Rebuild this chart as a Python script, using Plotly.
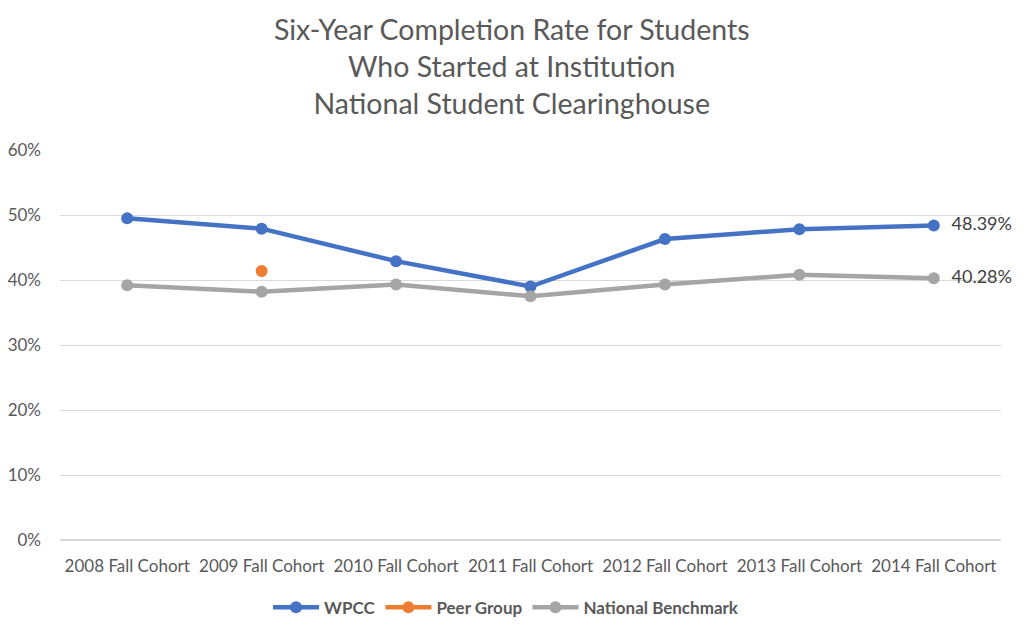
import plotly.graph_objects as go

categories = ["2008 Fall Cohort", "2009 Fall Cohort", "2010 Fall Cohort", "2011 Fall Cohort",
              "2012 Fall Cohort", "2013 Fall Cohort", "2014 Fall Cohort"]
wpcc = [0.495, 0.479, 0.429, 0.390, 0.463, 0.478, 0.4839]
peer_group = [None, 0.414, None, None, None, None, None]
national = [0.392, 0.382, 0.393, 0.375, 0.393, 0.408, 0.4028]
y_ticks = [0, 0.1, 0.2, 0.3, 0.4, 0.5, 0.6]

FONT = "Lato, 'Open Sans', sans-serif"
GRAY = "#595959"

def last_label(vals):
    return [""] * (len(vals) - 1) + ["\u00a0\u00a0" + f"{vals[-1]*100:.2f}%"]

fig = go.Figure()
fig.add_trace(go.Scatter(x=categories, y=wpcc, name="WPCC", mode="lines+markers+text",
                         line=dict(color="#4472C4", width=4.5), marker=dict(size=12, color="#4472C4"),
                         text=last_label(wpcc), textposition="middle right", cliponaxis=False,
                         textfont=dict(size=18, color="#404040", family=FONT)))
fig.add_trace(go.Scatter(x=categories, y=peer_group, name="Peer Group", mode="lines+markers",
                         line=dict(color="#ED7D31", width=4.5), marker=dict(size=12, color="#ED7D31")))
fig.add_trace(go.Scatter(x=categories, y=national, name="National Benchmark", mode="lines+markers+text",
                         line=dict(color="#A5A5A5", width=4.5), marker=dict(size=12, color="#A5A5A5"),
                         text=last_label(national), textposition="middle right", cliponaxis=False,
                         textfont=dict(size=18, color="#404040", family=FONT)))

fig.update_layout(
    width=1028, height=628,
    paper_bgcolor="white", plot_bgcolor="white",
    margin=dict(l=52, r=35, t=142, b=96),
    font=dict(family=FONT, color=GRAY, size=17),
    title=dict(text="Six-Year Completion Rate for Students<br>Who Started at Institution<br>National Student Clearinghouse",
               x=0.49, xanchor="center", y=0.949, yanchor="top",
               font=dict(size=28.5, color=GRAY, family=FONT)),
    xaxis=dict(showgrid=False, showline=False, ticks="", tickfont=dict(size=17, color=GRAY),
               range=[-0.5, 6.5], ticklabelstandoff=14, tickangle=0, automargin=False),
    yaxis=dict(range=[0, 0.6], tickvals=y_ticks, tickformat=".0%", showgrid=True,
               gridcolor="#D9D9D9", gridwidth=1, zeroline=True, zerolinecolor="#D9D9D9",
               showline=False, ticks="", tickfont=dict(size=17, color=GRAY),
               ticklabelstandoff=18, automargin=False),
    legend=dict(orientation="h", x=0.474, xanchor="center", yref="container", y=0.045, yanchor="middle",
                font=dict(size=17, color=GRAY, family=FONT, weight="bold"),
                itemwidth=46, traceorder="normal"),
    showlegend=True,
)

fig.write_html("out.html")
